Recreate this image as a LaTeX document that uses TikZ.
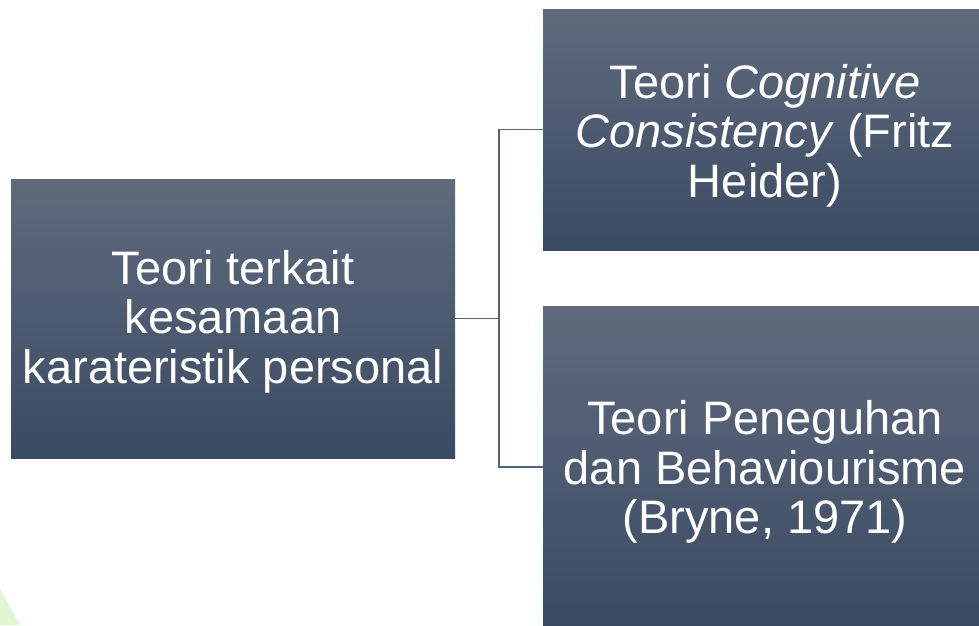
\documentclass[tikz,border=0pt]{standalone}
\usepackage{fontspec}
\setmainfont{Liberation Sans}
\definecolor{boxtop}{HTML}{5F6B7D}
\definecolor{boxbot}{HTML}{3B4A63}
\definecolor{linec}{HTML}{56647A}
\definecolor{leaf}{HTML}{E0F8D2}
\tikzset{
  theorybox/.style={rectangle, inner sep=0pt, top color=boxtop, bottom color=boxbot, draw=none},
  theorytext/.style={inner sep=0pt, text=white, align=center,
    font=\fontsize{47}{49.5}\selectfont},
  conn/.style={draw=linec, line width=1.2pt}
}
\begin{document}
\begin{tikzpicture}[x=1pt,y=-1pt]
\clip (0,0) rectangle (979,625);
\fill[white] (0,0) rectangle (979,625);
\fill[leaf] (0,589) -- (20,625) -- (0,625) -- cycle;
\node[theorybox, minimum width=444pt, minimum height=279pt] (left) at (233,318.5) {};
\node[theorybox, minimum width=444pt, minimum height=241pt] (top) at (765,129.5) {};
\node[theorybox, minimum width=444pt, minimum height=322pt] (bot) at (765,467) {};
\node[theorytext] (lefttext) at ([yshift=-3pt]left.center)
  {Teori terkait\\kesamaan\\karateristik personal};
\node[theorytext] (toptext) at ([yshift=-6pt]top.center)
  {Teori \textit{Cognitive}\\\textit{Consistency} (Fritz\\Heider)};
\node[theorytext] (bottext) at ([yshift=-5pt]bot.center)
  {Teori Peneguhan\\dan Behaviourisme\\(Bryne, 1971)};
\coordinate (j) at (499,318.5);
\draw[conn] (left.east) -- (j);
\draw[conn] (j) |- (top.west);
\draw[conn] (j) |- (bot.west);
\end{tikzpicture}
\end{document}
